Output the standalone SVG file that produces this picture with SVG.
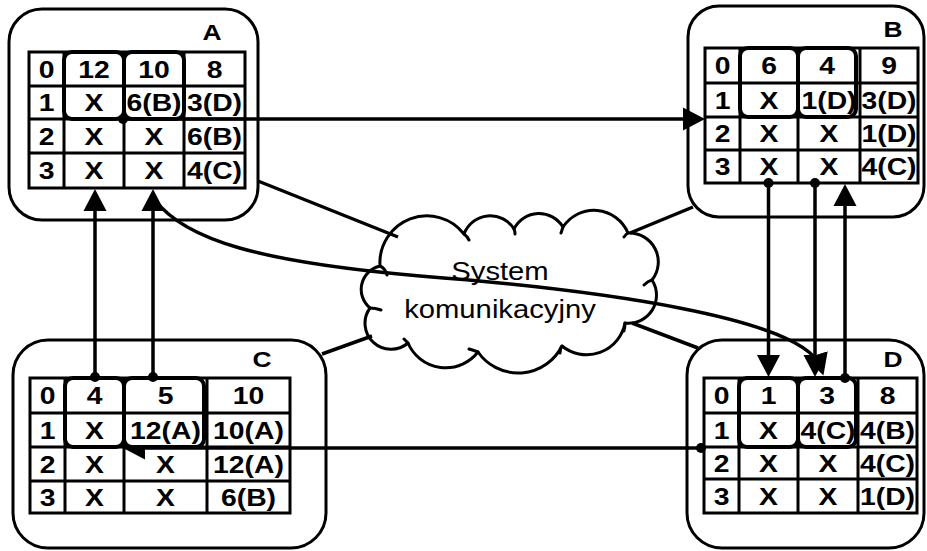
<svg xmlns="http://www.w3.org/2000/svg" width="927" height="551" viewBox="0 0 927 551">
  <style>
    .box { fill: #fff; stroke: #000; stroke-width: 3; }
    .grid { fill: none; stroke: #000; stroke-width: 3; }
    .hl { fill: none; stroke: #000; stroke-width: 4; }
    .t { font-family: "Liberation Sans", Arial, sans-serif; font-weight: bold; font-size: 24px; text-anchor: middle; fill: #000; }
    .lbl { font-family: "Liberation Sans", Arial, sans-serif; font-weight: bold; font-size: 22px; text-anchor: middle; fill: #000; }
    .ct { font-family: "Liberation Sans", Arial, sans-serif; font-size: 25px; text-anchor: middle; fill: #000; }
    .cloud { fill: #fff; stroke: #000; stroke-width: 3; stroke-linejoin: round; }
    .hook { fill: none; stroke: #000; stroke-width: 3; stroke-linecap: round; }
    .link { fill: none; stroke: #000; stroke-width: 3.5; }
    .arr { fill: none; stroke: #000; stroke-width: 3.5; marker-end: url(#head); }
    .arr-half { fill: none; stroke: #000; stroke-width: 3.5; marker-end: url(#head-half); }
    .dot { fill: #000; }
  </style>
  <defs>
    <marker id="head" markerUnits="userSpaceOnUse" markerWidth="22" markerHeight="24" refX="14" refY="12" orient="auto">
      <path d="M0,0.5 L22,12 L0,23.5 Z" fill="#000"/>
    </marker>
    <!-- arrowhead whose upper half is covered by the highlighted cell -->
    <marker id="head-half" markerUnits="userSpaceOnUse" markerWidth="22" markerHeight="24" refX="14" refY="12" orient="auto">
      <path d="M0,12 L22,12 L0,0.5 Z" fill="#000"/>
    </marker>
  </defs>

  <!-- Node A -->
  <g id="node-a">
    <rect class="box" x="9" y="9" width="249" height="211" rx="33"/>
    <text class="lbl" transform="translate(212 40) scale(1.2 1)">A</text>
    <rect class="grid" x="29" y="52" width="216" height="136"/>
    <path class="grid" d="M64,52V188 M124,52V188 M184,52V188 M29,86H245 M29,119H245 M29,153H245"/>
    <rect class="hl" x="64" y="52" width="60" height="67" rx="8"/>
    <rect class="hl" x="124" y="52" width="60" height="67" rx="8"/>
    <text class="t" transform="translate(46.5 78) scale(1.18 1)">0</text>
    <text class="t" transform="translate(94 78) scale(1.18 1)">12</text>
    <text class="t" transform="translate(154 78) scale(1.18 1)">10</text>
    <text class="t" transform="translate(214.5 78) scale(1.18 1)">8</text>
    <text class="t" transform="translate(46.5 111) scale(1.18 1)">1</text>
    <text class="t" transform="translate(94 111) scale(1.18 1)">X</text>
    <text class="t" transform="translate(154 111) scale(1.18 1)">6(B)</text>
    <text class="t" transform="translate(214.5 111) scale(1.18 1)">3(D)</text>
    <text class="t" transform="translate(46.5 145) scale(1.18 1)">2</text>
    <text class="t" transform="translate(94 145) scale(1.18 1)">X</text>
    <text class="t" transform="translate(154 145) scale(1.18 1)">X</text>
    <text class="t" transform="translate(214.5 145) scale(1.18 1)">6(B)</text>
    <text class="t" transform="translate(46.5 179) scale(1.18 1)">3</text>
    <text class="t" transform="translate(94 179) scale(1.18 1)">X</text>
    <text class="t" transform="translate(154 179) scale(1.18 1)">X</text>
    <text class="t" transform="translate(214.5 179) scale(1.18 1)">4(C)</text>
  </g>

  <!-- Node B -->
  <g id="node-b">
    <rect class="box" x="688" y="6" width="236" height="211" rx="31"/>
    <text class="lbl" transform="translate(893 37) scale(1.2 1)">B</text>
    <rect class="grid" x="705" y="48" width="213" height="135"/>
    <path class="grid" d="M740,48V183 M798,48V183 M860,48V183 M705,83H918 M705,117H918 M705,150H918"/>
    <rect class="hl" x="740" y="48" width="58" height="69" rx="8"/>
    <rect class="hl" x="798" y="48" width="58" height="69" rx="8"/>
    <text class="t" transform="translate(722.5 74) scale(1.18 1)">0</text>
    <text class="t" transform="translate(769 74) scale(1.18 1)">6</text>
    <text class="t" transform="translate(827 74) scale(1.18 1)">4</text>
    <text class="t" transform="translate(889 74) scale(1.18 1)">9</text>
    <text class="t" transform="translate(722.5 109) scale(1.18 1)">1</text>
    <text class="t" transform="translate(769 109) scale(1.18 1)">X</text>
    <text class="t" transform="translate(829 109) scale(1.18 1)">1(D)</text>
    <text class="t" transform="translate(889 109) scale(1.18 1)">3(D)</text>
    <text class="t" transform="translate(722.5 142) scale(1.18 1)">2</text>
    <text class="t" transform="translate(769 142) scale(1.18 1)">X</text>
    <text class="t" transform="translate(829 142) scale(1.18 1)">X</text>
    <text class="t" transform="translate(889 142) scale(1.18 1)">1(D)</text>
    <text class="t" transform="translate(722.5 175) scale(1.18 1)">3</text>
    <text class="t" transform="translate(769 175) scale(1.18 1)">X</text>
    <text class="t" transform="translate(829 175) scale(1.18 1)">X</text>
    <text class="t" transform="translate(889 175) scale(1.18 1)">4(C)</text>
  </g>

  <!-- Node C -->
  <g id="node-c">
    <rect class="box" x="13" y="340" width="313" height="208" rx="35"/>
    <text class="lbl" transform="translate(262 367) scale(1.2 1)">C</text>
    <rect class="grid" x="30" y="378" width="260" height="135"/>
    <path class="grid" d="M65,378V513 M124,378V513 M207,378V513 M30,413H290 M30,447H290 M30,481H290"/>
    <rect class="hl" x="65" y="378" width="59" height="69" rx="8"/>
    <rect class="hl" x="124" y="378" width="80" height="69" rx="8"/>
    <text class="t" transform="translate(47.5 404) scale(1.18 1)">0</text>
    <text class="t" transform="translate(94.5 404) scale(1.18 1)">4</text>
    <text class="t" transform="translate(165.5 404) scale(1.18 1)">5</text>
    <text class="t" transform="translate(248.5 404) scale(1.18 1)">10</text>
    <text class="t" transform="translate(47.5 439) scale(1.18 1)">1</text>
    <text class="t" transform="translate(94.5 439) scale(1.18 1)">X</text>
    <text class="t" transform="translate(165.5 439) scale(1.18 1)">12(A)</text>
    <text class="t" transform="translate(248.5 439) scale(1.18 1)">10(A)</text>
    <text class="t" transform="translate(47.5 473) scale(1.18 1)">2</text>
    <text class="t" transform="translate(94.5 473) scale(1.18 1)">X</text>
    <text class="t" transform="translate(165.5 473) scale(1.18 1)">X</text>
    <text class="t" transform="translate(248.5 473) scale(1.18 1)">12(A)</text>
    <text class="t" transform="translate(47.5 506) scale(1.18 1)">3</text>
    <text class="t" transform="translate(94.5 506) scale(1.18 1)">X</text>
    <text class="t" transform="translate(165.5 506) scale(1.18 1)">X</text>
    <text class="t" transform="translate(248.5 506) scale(1.18 1)">6(B)</text>
  </g>

  <!-- Node D -->
  <g id="node-d">
    <rect class="box" x="687" y="340" width="237" height="208" rx="35"/>
    <text class="lbl" transform="translate(893 367) scale(1.2 1)">D</text>
    <rect class="grid" x="704" y="378" width="213" height="135"/>
    <path class="grid" d="M739,378V513 M798,378V513 M858,378V513 M704,413H917 M704,447H917 M704,479H917"/>
    <rect class="hl" x="739" y="378" width="59" height="69" rx="8"/>
    <rect class="hl" x="798" y="378" width="58" height="69" rx="8"/>
    <text class="t" transform="translate(721.5 404) scale(1.18 1)">0</text>
    <text class="t" transform="translate(768.5 404) scale(1.18 1)">1</text>
    <text class="t" transform="translate(827 404) scale(1.18 1)">3</text>
    <text class="t" transform="translate(887.5 404) scale(1.18 1)">8</text>
    <text class="t" transform="translate(721.5 439) scale(1.18 1)">1</text>
    <text class="t" transform="translate(768.5 439) scale(1.18 1)">X</text>
    <text class="t" transform="translate(828 439) scale(1.18 1)">4(C)</text>
    <text class="t" transform="translate(887.5 439) scale(1.18 1)">4(B)</text>
    <text class="t" transform="translate(721.5 472) scale(1.18 1)">2</text>
    <text class="t" transform="translate(768.5 472) scale(1.18 1)">X</text>
    <text class="t" transform="translate(828 472) scale(1.18 1)">X</text>
    <text class="t" transform="translate(887.5 472) scale(1.18 1)">4(C)</text>
    <text class="t" transform="translate(721.5 505) scale(1.18 1)">3</text>
    <text class="t" transform="translate(768.5 505) scale(1.18 1)">X</text>
    <text class="t" transform="translate(828 505) scale(1.18 1)">X</text>
    <text class="t" transform="translate(887.5 505) scale(1.18 1)">1(D)</text>
  </g>

  <!-- Communication system cloud -->
  <g id="network">
    <path class="cloud" d="M380,266
      A47,47 0 0 1 464,234
      A28,28 0 0 1 514,229
      A28,28 0 0 1 563,227
      A37,37 0 0 1 628,233
      A29,29 0 0 1 652,280
      A28,28 0 0 1 625,323
      A39,39 0 0 1 562,346
      A49,49 0 0 1 478,352
      A41,41 0 0 1 408,343
      A26,26 0 0 1 370,308
      A24,24 0 0 1 380,266 Z"/>
    <!-- short inner strokes where the bumps meet -->
    <path class="hook" d="M380,266 q5,2 7,9 M464,234 q3,2 5,6 M514,229 q1,2 1,5 M563,227 q-1,3 -2,6 M628,233 q-2,1 -4,4 M652,280 q-4,1 -8,5 M625,323 q0,4 -1,8 M562,346 q-2,2 -2,7 M478,352 q-5,-2 -9,-3 M408,343 q-2,-2 -4,-4 M370,308 q5,0 11,2"/>
    <text class="ct" transform="translate(500 280) scale(1.17 1)">System</text>
    <text class="ct" transform="translate(500 318) scale(1.17 1)">komunikacyjny</text>
  </g>

  <!-- Connectors -->
  <g id="connectors">
    <!-- links between hosts and the cloud -->
    <path class="link" d="M258,181 L398,237"/>
    <path class="link" d="M693,207 L630,233"/>
    <path class="link" d="M322,354 L372,336"/>
    <path class="link" d="M632,323 L698,348"/>

    <!-- A to B -->
    <path class="arr" d="M123,119 H697"/>
    <circle class="dot" cx="123" cy="119" r="5"/>

    <!-- B to D -->
    <path class="arr" d="M768.5,183 V369"/>
    <circle class="dot" cx="768.5" cy="183" r="5"/>
    <path class="arr" d="M815,183 V369"/>
    <circle class="dot" cx="815" cy="183" r="5"/>

    <!-- D to B -->
    <path class="arr" d="M845,378 V192"/>
    <circle class="dot" cx="845" cy="378" r="5"/>

    <!-- A to D, curved through the cloud -->
    <path class="arr" d="M155,200 C185,240 260,262 420,276 C600,290 805,318 821,368"/>

    <!-- C to A -->
    <path class="arr" d="M95,377 V197"/>
    <circle class="dot" cx="95" cy="377" r="5"/>
    <path class="arr" d="M153,377 V197"/>
    <circle class="dot" cx="153" cy="377" r="5"/>

    <!-- D to C -->
    <path class="arr-half" d="M701,448 H131"/>
    <circle class="dot" cx="701" cy="448" r="5"/>
  </g>
</svg>
